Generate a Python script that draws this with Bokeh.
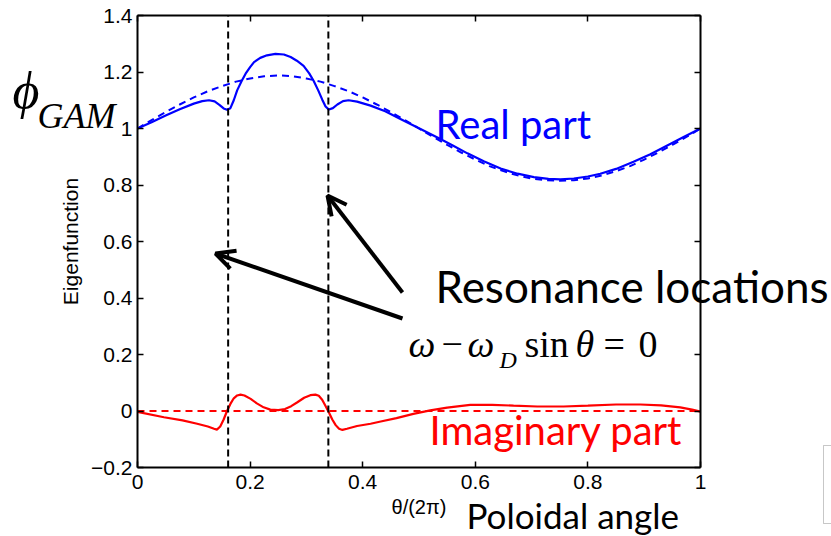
from bokeh.plotting import figure
from bokeh.models import Label, Arrow, OpenHead, LinearAxis, FixedTicker, Range1d, BoxAnnotation
from bokeh.embed import file_html
from bokeh.resources import INLINE

# ---------------- data ----------------
x_ticks = [0, 0.2, 0.4, 0.6, 0.8, 1.0]
x_tick_labels = ["0", "0.2", "0.4", "0.6", "0.8", "1"]
y_ticks = [-0.2, 0, 0.2, 0.4, 0.6, 0.8, 1.0, 1.2, 1.4]
y_tick_labels = ["\u22120.2", "0", "0.2", "0.4", "0.6", "0.8", "1", "1.2", "1.4"]

real_theta = [0, 0.025, 0.05, 0.075, 0.1, 0.115, 0.127, 0.137, 0.146, 0.153, 0.159,
              0.165, 0.171, 0.177, 0.185, 0.192, 0.2, 0.207, 0.218, 0.23, 0.245,
              0.26, 0.272, 0.283, 0.295, 0.305, 0.313, 0.321, 0.328, 0.334, 0.34,
              0.347, 0.355, 0.365, 0.375, 0.39, 0.414, 0.44, 0.467, 0.5, 0.538,
              0.56, 0.586, 0.615, 0.645, 0.675, 0.704, 0.73, 0.751, 0.775, 0.8,
              0.822, 0.85, 0.881, 0.91, 0.941, 0.97, 1.0]
real_solid = [1.000, 1.022, 1.046, 1.068, 1.088, 1.097, 1.100, 1.096, 1.083, 1.071, 1.066,
              1.072, 1.100, 1.135, 1.168, 1.194, 1.217, 1.235, 1.250, 1.259, 1.264,
              1.262, 1.253, 1.240, 1.222, 1.195, 1.168, 1.135, 1.103, 1.078, 1.067,
              1.072, 1.085, 1.097, 1.100, 1.095, 1.081, 1.061, 1.034, 1.001, 0.963,
              0.940, 0.912, 0.884, 0.858, 0.840, 0.828, 0.822, 0.820, 0.823, 0.830,
              0.840, 0.857, 0.882, 0.908, 0.940, 0.970, 1.000]

real_dash_theta = [0, 0.025, 0.05, 0.075, 0.1, 0.125, 0.15, 0.175, 0.2, 0.225, 0.25,
                   0.275, 0.3, 0.325, 0.35, 0.375, 0.4, 0.425, 0.45, 0.475, 0.5,
                   0.525, 0.55, 0.575, 0.6, 0.625, 0.65, 0.675, 0.7, 0.725, 0.75,
                   0.775, 0.8, 0.825, 0.85, 0.875, 0.9, 0.925, 0.95, 0.975, 1.0]
real_dash = [1.000, 1.030, 1.058, 1.085, 1.110, 1.132, 1.150, 1.166, 1.177, 1.185, 1.188,
             1.185, 1.177, 1.166, 1.150, 1.132, 1.110, 1.085, 1.058, 1.030, 1.000,
             0.970, 0.942, 0.915, 0.890, 0.867, 0.849, 0.834, 0.823, 0.817, 0.815,
             0.817, 0.823, 0.834, 0.849, 0.867, 0.890, 0.915, 0.942, 0.970, 1.000]

imag_theta = [0, 0.047, 0.08, 0.106, 0.125, 0.136, 0.141, 0.147, 0.153, 0.159, 0.165,
              0.171, 0.177, 0.183, 0.19, 0.201, 0.212, 0.224, 0.236, 0.25, 0.262,
              0.273, 0.284, 0.296, 0.307, 0.316, 0.322, 0.328, 0.334, 0.34, 0.346,
              0.352, 0.358, 0.364, 0.372, 0.39, 0.414, 0.432, 0.46, 0.49, 0.52,
              0.55, 0.591, 0.63, 0.668, 0.71, 0.757, 0.8, 0.85, 0.893, 0.93,
              0.964, 0.985, 1.0]
imag_solid = [-0.003, -0.022, -0.033, -0.045, -0.055, -0.063, -0.066, -0.055, -0.030, 0.000, 0.025,
              0.045, 0.055, 0.058, 0.055, 0.043, 0.027, 0.013, 0.005, 0.003, 0.007,
              0.017, 0.031, 0.047, 0.056, 0.058, 0.054, 0.040, 0.018, -0.005, -0.030,
              -0.050, -0.063, -0.067, -0.063, -0.053, -0.045, -0.037, -0.025, -0.010, 0.002,
              0.012, 0.022, 0.022, 0.019, 0.016, 0.016, 0.019, 0.023, 0.023, 0.020,
              0.013, 0.005, -0.002]

imag_dash_theta = [0.0, 1.0]
imag_dash = [0.0, 0.0]

resonance_theta = [0.161, 0.339]

# ---------------- geometry ----------------
W, H = 831, 536
FL, FR, FT, FB = 137, 700, 15, 467   # axes box on the canvas (pixels)
X0, X1, Y0, Y1 = 0.0, 1.0, -0.2, 1.4  # axes limits
SX = (FR - FL) / (X1 - X0)
SY = (FB - FT) / (Y1 - Y0)


def dx(px):
    return X0 + (px - FL) / SX


def dy(py):
    return Y1 - (py - FT) / SY


# the frame covers the whole canvas; the axes box is drawn with fixed axes
p = figure(width=W, height=H, output_backend="svg", toolbar_location=None,
           x_range=Range1d(dx(0), dx(W)), y_range=Range1d(dy(H), dy(0)),
           min_border=0, background_fill_color="white", border_fill_color="white",
           x_axis_location=None, y_axis_location=None)
p.outline_line_color = None
p.grid.visible = False

TICK_FONT = "Liberation Sans"


def make_axis(ticks, labels, loc, bounds, show_labels=True):
    ax = LinearAxis(fixed_location=loc, bounds=bounds)
    ax.ticker = FixedTicker(ticks=ticks)
    ax.minor_tick_line_color = None
    ax.major_tick_in = 6
    ax.major_tick_out = 0
    ax.major_tick_line_width = 1.5
    ax.major_tick_line_color = "black"
    ax.axis_line_width = 2
    ax.axis_line_color = "black"
    if show_labels:
        ax.major_label_overrides = {t: l for t, l in zip(ticks, labels)}
        ax.major_label_text_font = TICK_FONT
        ax.major_label_text_font_size = "21px"
        ax.major_label_text_color = "black"
    else:
        ax.major_label_overrides = {t: "" for t in ticks}
        ax.major_label_standoff = 0
    return ax


xb = (X0, X1)
yb = (Y0, Y1)
bottom = make_axis(x_ticks, x_tick_labels, Y0, xb)
bottom.major_label_standoff = 7
bottom.axis_label = "\u03b8/(2\u03c0)"
bottom.axis_label_text_font = TICK_FONT
bottom.axis_label_text_font_style = "normal"
bottom.axis_label_text_font_size = "20px"
bottom.axis_label_text_color = "black"
bottom.axis_label_standoff = 4
p.add_layout(bottom, "below")

left = make_axis(y_ticks, y_tick_labels, X0, yb)
left.major_label_standoff = 5
left.axis_label = "Eigenfunction"
left.axis_label_text_font = TICK_FONT
left.axis_label_text_font_style = "normal"
left.axis_label_text_font_size = "21px"
left.axis_label_text_color = "black"
left.axis_label_standoff = 6
p.add_layout(left, "left")

p.add_layout(make_axis(x_ticks, x_tick_labels, Y1, xb, show_labels=False), "above")
p.add_layout(make_axis(y_ticks, y_tick_labels, X1, yb, show_labels=False), "right")

# ---------------- curves ----------------
BLUE = "#0000ff"
RED = "#ff0000"
p.line(real_dash_theta, real_dash, line_color=BLUE, line_width=2, line_dash="7 5")
p.line(real_theta, real_solid, line_color=BLUE, line_width=2.2)
p.line(imag_dash_theta, imag_dash, line_color=RED, line_width=2, line_dash="7 5")
p.line(imag_theta, imag_solid, line_color=RED, line_width=2.2)

p.segment(x0=resonance_theta, y0=[Y0] * len(resonance_theta),
          x1=resonance_theta, y1=[Y1] * len(resonance_theta),
          line_color="black", line_width=2, line_dash="7 4")

# ---------------- arrows ----------------
arrows = [((402, 318), (215, 253)), ((402, 292), (327, 195))]
for (tx, ty), (hx, hy) in arrows:
    p.add_layout(Arrow(end=OpenHead(size=19, line_width=4, line_color="black"),
                       x_start=dx(tx), y_start=dy(ty), x_end=dx(hx), y_end=dy(hy),
                       line_width=4, line_color="black"))

# ---------------- texts ----------------
# baseline correction: Bokeh's "alphabetic" anchor sits below the true baseline


def label(text, px, py, size, color="black", font="Lato", style="normal", k=0.35):
    p.add_layout(Label(x=dx(px), y=dy(py - k * size), text=text, text_font=font,
                       text_font_size=f"{size}px", text_font_style=style,
                       text_color=color, text_align="left", text_baseline="alphabetic"))


label("Real part", 435, 137, 40, color=BLUE)
label("Imaginary part", 429, 443, 40, color=RED)
label("Resonance locations", 435, 301, 44)
label("Poloidal angle", 466, 527, 35)

SERIF = "Liberation Serif"
label("\u03d5", 12, 113, 52, font=SERIF, style="italic", k=0.44)
label("GAM", 37, 127, 36, font=SERIF, style="italic", k=0.33)

formula = [("\u03c9", 408, 355, 38, "italic"),
           ("\u2212", 441, 355, 38, "normal"),
           ("\u03c9", 467, 355, 38, "italic"),
           ("D", 499, 367, 24, "italic"),
           ("sin", 524, 355, 38, "normal"),
           ("\u03b8", 575, 355, 38, "italic"),
           ("=", 603, 355, 38, "normal"),
           ("0", 638, 355, 38, "normal")]
for txt, px, py, size, st in formula:
    label(txt, px, py, size, font=SERIF, style=st, k=0.3)

# partial frame at the right-hand edge of the slide
p.add_layout(BoxAnnotation(left=dx(823), right=dx(W + 20), top=dy(445), bottom=dy(523),
                           fill_alpha=0, line_color="#444444", line_width=1))

open("out.html", "w").write(file_html(p, INLINE))
